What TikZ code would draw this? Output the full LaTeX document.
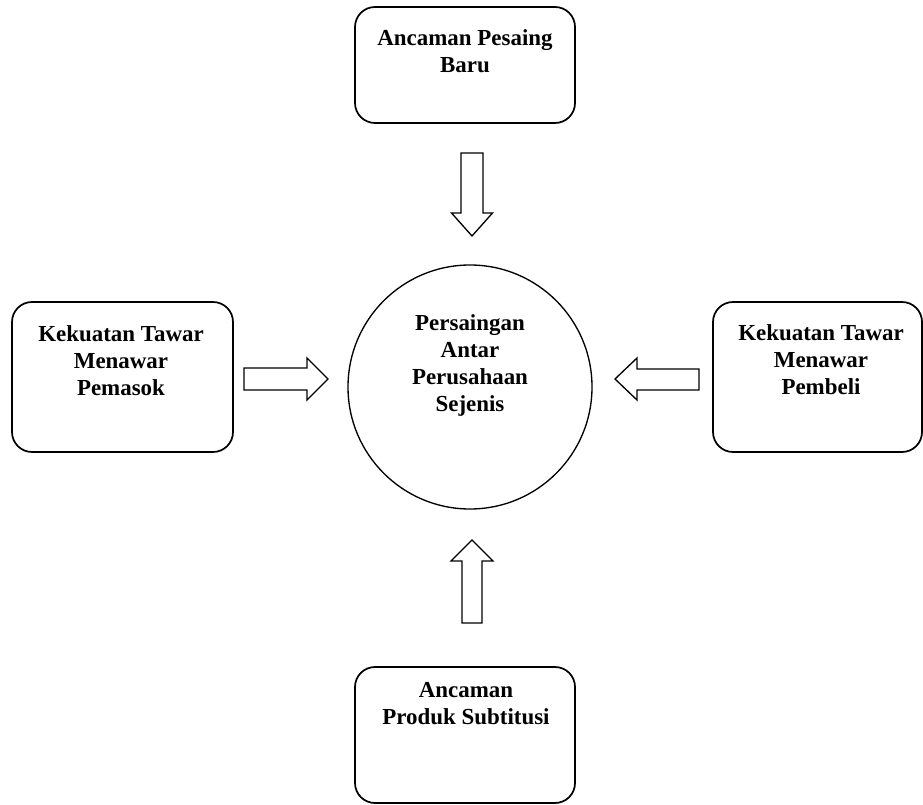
\documentclass[tikz,border=0pt]{standalone}
\usepackage{fontspec}
\setmainfont{Liberation Serif}
\begin{document}
\begin{tikzpicture}[x=0.75pt,y=-0.75pt,
  forcebox/.style={draw,line width=1.3pt,rounded corners=15pt,inner sep=0pt},
  forcetext/.style={anchor=north,inner sep=0pt,align=center,
     font=\bfseries\fontsize{17.2}{20.3}\selectfont},
  blockarrow/.style={draw,line width=1pt,line join=miter}]
\useasboundingbox (0,0) rectangle (923,805);
% boxes
\node[forcebox,minimum width=165pt,minimum height=87pt] (top) at (465,65) {};
\node[forcebox,minimum width=165.75pt,minimum height=112.5pt] (left) at (122.5,377) {};
\node[forcebox,minimum width=156.75pt,minimum height=112.5pt] (right) at (817.5,377) {};
\node[forcebox,minimum width=165pt,minimum height=102pt] (bottom) at (465,735) {};
\node[draw,line width=1pt,circle,minimum size=183pt,inner sep=0pt] (center) at (470,387) {};
% texts
\node[forcetext] (toptext) at (465,29) {Ancaman Pesaing\\Baru};
\node[forcetext] (lefttext) at (121,325) {Kekuatan Tawar\\Menawar\\Pemasok};
\node[forcetext] (righttext) at (821,324) {Kekuatan Tawar\\Menawar\\Pembeli};
\node[forcetext] (centertext) at (470,314) {Persaingan\\Antar\\Perusahaan\\Sejenis};
\node[forcetext] (bottomtext) at (466,682) {Ancaman\\Produk Subtitusi};
% block arrows
\draw[blockarrow] (461,153) -- (483,153) -- (483,213) -- (492.5,213) -- (472,236)
   -- (451.5,213) -- (461,213) -- cycle;
\draw[blockarrow] (462,623) -- (482,623) -- (482,561) -- (493,561) -- (472,540)
   -- (451,561) -- (462,561) -- cycle;
\draw[blockarrow] (244,368) -- (307,368) -- (307,358) -- (328,379) -- (307,400)
   -- (307,390) -- (244,390) -- cycle;
\draw[blockarrow] (699,369) -- (637,369) -- (637,358) -- (615,379) -- (637,400)
   -- (637,390) -- (699,390) -- cycle;
\end{tikzpicture}
\end{document}
